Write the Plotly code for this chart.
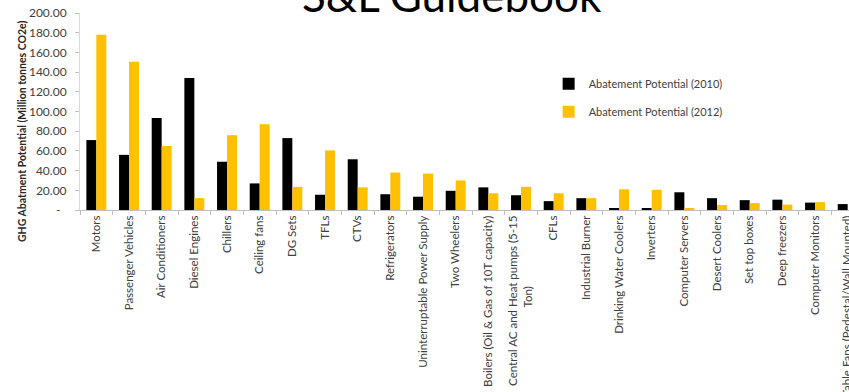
import plotly.graph_objects as go

categories = [
    "Motors", "Passenger Vehicles", "Air Conditioners", "Diesel Engines", "Chillers",
    "Ceiling fans", "DG Sets", "TFLs", "CTVs", "Refrigerators",
    "Uninterruptable Power Supply", "Two Wheelers", "Boilers (Oil & Gas of 10T capacity)",
    "Central AC and Heat pumps (5-15<br>Ton)" + "\u00a0" * 24,
    "CFLs", "Industrial Burner", "Drinking Water Coolers", "Inverters", "Computer Servers",
    "Desert Coolers", "Set top boxes", "Deep freezers", "Computer Monitors",
    "Table Fans (Pedestal/Wall Mounted)",
]
potential_2010 = [71, 56, 93.5, 134, 49, 27, 73, 15.5, 51.5, 16, 13.5, 19.5, 23, 15,
                  9, 12, 2, 1.5, 18, 12, 10, 10.5, 7.5, 6]
potential_2012 = [178, 150.5, 65, 12, 76, 87, 23.5, 60.5, 23, 38, 37, 30, 17, 23.5,
                  17, 12, 21, 20.5, 1.5, 5, 7, 5.5, 8, None]
y_tickvals = [0, 20, 40, 60, 80, 100, 120, 140, 160, 180, 200]
y_ticktext = ["-\u00a0\u00a0", "20.00", "40.00", "60.00", "80.00", "100.00", "120.00",
              "140.00", "160.00", "180.00", "200.00"]

FONT = "Lato"
TXT = "#404040"

fig = go.Figure()
fig.add_trace(go.Bar(x=categories, y=potential_2010, name="Abatement Potential (2010)",
                     marker=dict(color="#000000", line=dict(width=0)), legendgroup="a"))
fig.add_trace(go.Bar(x=categories, y=potential_2012, name="Abatement Potential (2012)",
                     marker=dict(color="#FFC000", line=dict(width=0)), legendgroup="b"))

fig.update_layout(
    width=849, height=392,
    margin=dict(l=80, r=0, t=13, b=182, pad=0),
    paper_bgcolor="white", plot_bgcolor="white",
    barmode="group", bargap=0.39, bargroupgap=0,
    font=dict(family=FONT, size=11, color=TXT),
    showlegend=True,
    legend=dict(x=0.6094, y=0.715, xanchor="left", yanchor="top",
                font=dict(family=FONT, size=11, color=TXT),
                tracegroupgap=9, itemwidth=30, bgcolor="rgba(0,0,0,0)"),
    xaxis=dict(range=[-0.5, 23.04], tickangle=-90, tickson="boundaries",
               ticks="outside", ticklen=4, tickcolor="#BFBFBF",
               showline=True, linecolor="#BFBFBF", linewidth=1,
               showgrid=False, zeroline=False, automargin=False,
               tickfont=dict(family=FONT, size=11.5, color=TXT)),
    yaxis=dict(range=[0, 200], tickvals=y_tickvals, ticktext=y_ticktext,
               ticks="outside", ticklen=4, tickcolor="#BFBFBF",
               showline=True, linecolor="#D9D9D9", linewidth=1,
               showgrid=False, zeroline=False, automargin=False,
               tickfont=dict(family=FONT, size=12, color=TXT), ticklabelstandoff=6),
    annotations=[
        dict(text="S&L Guidebook", xref="paper", yref="paper", x=0.484, y=1,
             xanchor="center", yanchor="bottom", yshift=-10, showarrow=False,
             font=dict(family=FONT, size=44, color="#000000")),
        dict(text="<b>GHG Abatment Potential (Million tonnes CO2e)</b>", xref="paper",
             yref="paper", x=-0.0754, y=0.396, xanchor="center", yanchor="middle",
             textangle=-90, showarrow=False,
             font=dict(family=FONT, size=10.5, color="#262626")),
    ],
)

fig.write_html("out.html")
